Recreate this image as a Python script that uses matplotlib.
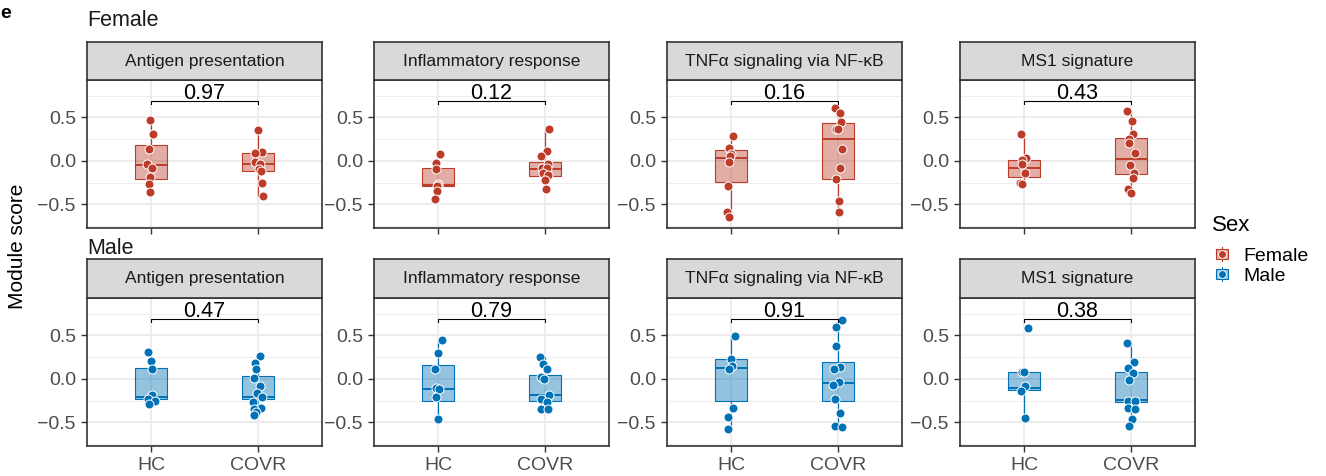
import matplotlib
matplotlib.use("Agg")
import matplotlib.pyplot as plt
from matplotlib.lines import Line2D
from matplotlib.patches import Rectangle
from matplotlib.legend_handler import HandlerBase
from matplotlib.colors import to_rgba

plt.rcParams['font.family'] = ['Liberation Sans', 'DejaVu Sans']

# ---------------- data ----------------
modules = ["Antigen presentation", "Inflammatory response",
           "TNFα signaling via NF-κB", "MS1 signature"]
groups = ["HC", "COVR"]
sexes = ["Female", "Male"]
p_female = ["0.97", "0.12", "0.16", "0.43"]
p_male = ["0.47", "0.79", "0.91", "0.38"]
yticks = [-0.5, 0.0, 0.5]
ytick_labels = ["\u22120.5", "0.0", "0.5"]

# Female module scores
f_hc_antigen = [0.47, 0.31, 0.14, -0.03, -0.08, -0.18, -0.26, -0.36]
f_covr_antigen = [0.36, 0.10, 0.095, -0.015, -0.04, -0.095, -0.11, -0.25, -0.40]
f_hc_inflam = [0.08, -0.027, -0.09, -0.26, -0.28, -0.29, -0.345, -0.437]
f_covr_inflam = [0.364, 0.115, 0.057, -0.038, -0.08, -0.085, -0.14, -0.16, -0.22, -0.32]
f_hc_tnf = [0.287, 0.153, 0.077, 0.06, -0.008, -0.284, -0.59, -0.647]
f_covr_tnf = [0.605, 0.555, 0.445, 0.372, 0.372, 0.142, -0.077, -0.21, -0.456, -0.586]
f_hc_ms1 = [0.307, 0.031, 0.011, -0.038, -0.141, -0.249, -0.268]
f_covr_ms1 = [0.575, 0.46, 0.307, 0.249, 0.21, 0.088, -0.046, -0.141, -0.191, -0.322, -0.372]

# Male module scores
m_hc_antigen = [0.311, 0.208, 0.111, -0.185, -0.231, -0.25, -0.292]
m_covr_antigen = [0.269, 0.188, 0.111, 0.015, -0.077, -0.165, -0.208, -0.269, -0.338, -0.346, -0.377, -0.415]
m_hc_inflam = [0.45, 0.303, 0.115, -0.107, -0.119, -0.211, -0.461]
m_covr_inflam = [0.25, 0.173, 0.119, 0.019, -0.004, -0.185, -0.231, -0.262, -0.346, -0.35]
m_hc_tnf = [0.492, 0.227, 0.15, 0.112, -0.331, -0.434, -0.573]
m_covr_tnf = [0.68, 0.592, 0.381, 0.142, 0.115, -0.038, -0.065, -0.231, -0.392, -0.538, -0.55]
m_hc_ms1 = [0.588, 0.084, 0.08, -0.081, -0.135, -0.446]
m_covr_ms1 = [0.415, 0.192, 0.123, 0.073, -0.015, -0.25, -0.25, -0.334, -0.35, -0.461, -0.546]

# horizontal jitter of each point (category units)
f_hc_antigen_jit = [-0.01, 0.02, -0.02, -0.04, 0.01, -0.01, -0.02, -0.01]
f_covr_antigen_jit = [0.0, 0.04, -0.03, -0.03, 0.02, 0.01, 0.03, 0.04, 0.05]
f_hc_inflam_jit = [0.02, -0.02, -0.02, 0.0, 0.0, -0.01, -0.01, -0.03]
f_covr_inflam_jit = [0.04, 0.02, -0.04, 0.03, -0.03, 0.02, -0.02, 0.03, 0.0, 0.01]
f_hc_tnf_jit = [0.02, -0.02, 0.0, -0.01, -0.02, -0.03, -0.04, -0.02]
f_covr_tnf_jit = [-0.03, 0.02, 0.03, -0.02, 0.0, 0.04, 0.02, -0.02, 0.01, 0.01]
f_hc_ms1_jit = [-0.03, 0.02, -0.02, -0.02, 0.01, -0.04, -0.02]
f_covr_ms1_jit = [-0.04, 0.01, 0.02, -0.02, -0.02, 0.04, -0.01, 0.03, 0.02, -0.03, 0.0]
m_hc_antigen_jit = [-0.03, 0.0, 0.01, 0.01, -0.03, 0.04, -0.02]
m_covr_antigen_jit = [0.02, -0.03, -0.02, -0.04, 0.02, -0.01, 0.04, -0.05, 0.03, -0.04, -0.02, -0.04]
m_hc_inflam_jit = [0.04, 0.0, -0.03, -0.02, 0.01, -0.02, 0.0]
m_covr_inflam_jit = [-0.05, -0.02, 0.02, -0.04, -0.01, 0.04, -0.04, 0.02, -0.04, 0.03]
m_hc_tnf_jit = [0.04, 0.0, 0.01, -0.02, 0.02, -0.03, -0.03]
m_covr_tnf_jit = [0.04, -0.02, -0.02, 0.02, -0.04, 0.01, -0.05, -0.03, 0.02, -0.03, 0.04]
m_hc_ms1_jit = [0.04, -0.02, 0.0, 0.01, -0.03, 0.01]
m_covr_ms1_jit = [-0.04, 0.03, -0.03, 0.02, -0.02, -0.03, 0.04, -0.03, 0.04, 0.01, -0.02]

# box statistics per module, [HC, COVR]
f_whislo = [[-0.36, -0.40], [-0.437, -0.32], [-0.647, -0.586], [-0.268, -0.372]]
f_q1 = [[-0.21, -0.115], [-0.29, -0.169], [-0.245, -0.21], [-0.187, -0.149]]
f_med = [[-0.05, -0.03], [-0.28, -0.096], [0.038, 0.253], [-0.084, 0.023]]
f_q3 = [[0.18, 0.09], [-0.077, -0.015], [0.123, 0.433], [0.008, 0.261]]
f_whishi = [[0.47, 0.36], [0.08, 0.364], [0.287, 0.605], [0.307, 0.575]]

m_whislo = [[-0.292, -0.415], [-0.461, -0.35], [-0.573, -0.55], [-0.446, -0.546]]
m_q1 = [[-0.234, -0.231], [-0.25, -0.25], [-0.254, -0.254], [-0.13, -0.26]]
m_med = [[-0.204, -0.211], [-0.112, -0.188], [0.123, -0.05], [-0.1, -0.245]]
m_q3 = [[0.131, 0.035], [0.161, 0.042], [0.227, 0.196], [0.077, 0.084]]
m_whishi = [[0.311, 0.269], [0.45, 0.25], [0.492, 0.68], [0.077, 0.415]]

female_points = [(f_hc_antigen, f_covr_antigen), (f_hc_inflam, f_covr_inflam),
                 (f_hc_tnf, f_covr_tnf), (f_hc_ms1, f_covr_ms1)]
female_jit = [(f_hc_antigen_jit, f_covr_antigen_jit), (f_hc_inflam_jit, f_covr_inflam_jit),
              (f_hc_tnf_jit, f_covr_tnf_jit), (f_hc_ms1_jit, f_covr_ms1_jit)]
male_points = [(m_hc_antigen, m_covr_antigen), (m_hc_inflam, m_covr_inflam),
               (m_hc_tnf, m_covr_tnf), (m_hc_ms1, m_covr_ms1)]
male_jit = [(m_hc_antigen_jit, m_covr_antigen_jit), (m_hc_inflam_jit, m_covr_inflam_jit),
            (m_hc_tnf_jit, m_covr_tnf_jit), (m_hc_ms1_jit, m_covr_ms1_jit)]

# ---------------- style ----------------
colors = {"Female": "#BC3C29", "Male": "#0072B5"}
FILL_ALPHA = 0.42
BORDER = "#333333"
GRID = "#EBEBEB"
TICKTXT = "#4D4D4D"
STRIP = "#D9D9D9"

W, H = 1326, 476
fig = plt.figure(figsize=(W / 100, H / 100), dpi=100)

col_left = [87, 374, 667, 960]
panel_w = 235
row_axes = [(80, 228), (298, 446)]      # top, bottom pixel (from top)
row_strip = [(42, 80), (259, 298)]


def fx(px):
    return px / W


def fy(py):
    return 1 - py / H


rows = [
    ("Female", female_points, female_jit, (f_whislo, f_q1, f_med, f_q3, f_whishi), p_female),
    ("Male", male_points, male_jit, (m_whislo, m_q1, m_med, m_q3, m_whishi), p_male),
]

for r, (sex, pts, jits, bstats, pvals) in enumerate(rows):
    col = colors[sex]
    fill = to_rgba(col, FILL_ALPHA)
    a_top, a_bot = row_axes[r]
    s_top, s_bot = row_strip[r]
    for c in range(4):
        ax = fig.add_axes([fx(col_left[c]), fy(a_bot), fx(panel_w), (a_bot - a_top) / H])
        ax.set_xlim(0.4, 2.6)
        ax.set_ylim(-0.77, 0.93)
        ax.set_facecolor("white")
        # grid
        for yv in [-0.75, -0.25, 0.25, 0.75]:
            ax.axhline(yv, color=GRID, lw=0.6, zorder=0)
        for yv in yticks:
            ax.axhline(yv, color=GRID, lw=1.3, zorder=0)
        for xv in [1, 2]:
            ax.axvline(xv, color=GRID, lw=1.3, zorder=0)

        stats = []
        for g in range(2):
            stats.append(dict(whislo=bstats[0][c][g], q1=bstats[1][c][g], med=bstats[2][c][g],
                              q3=bstats[3][c][g], whishi=bstats[4][c][g], fliers=[]))
        ax.bxp(stats, positions=[1, 2], widths=0.3, patch_artist=True, showfliers=False,
               showcaps=False,
               boxprops=dict(facecolor=fill, edgecolor=col, linewidth=0.8),
               medianprops=dict(color=col, linewidth=1.4, solid_capstyle='butt'),
               whiskerprops=dict(color=col, linewidth=0.9),
               manage_ticks=False, zorder=2)
        for g in range(2):
            xs = [g + 1 + j for j in jits[c][g]]
            ax.scatter(xs, pts[c][g], s=42, facecolor=col, edgecolor="white",
                       linewidths=0.7, zorder=3)

        # p-value bracket
        ax.plot([1, 1, 2, 2], [0.655, 0.69, 0.69, 0.655], color="black", lw=0.8, zorder=4,
                solid_joinstyle='miter')
        ax.text(1.5, 0.712, pvals[c], ha="center", va="baseline", fontsize=15.5,
                color="black", zorder=5)

        ax.set_yticks(yticks)
        ax.set_yticklabels(ytick_labels)
        ax.set_xticks([1, 2])
        if r == 1:
            ax.set_xticklabels(groups)
        else:
            ax.set_xticklabels([])
        ax.tick_params(axis="both", length=4.5, width=1.0, color=BORDER,
                       labelsize=14, labelcolor=TICKTXT, pad=3.5)
        for sp in ax.spines.values():
            sp.set_color(BORDER)
            sp.set_linewidth(1.2)

        # strip
        sax = fig.add_axes([fx(col_left[c]), fy(s_bot), fx(panel_w), (s_bot - s_top) / H])
        sax.set_facecolor(STRIP)
        sax.set_xticks([])
        sax.set_yticks([])
        for sp in sax.spines.values():
            sp.set_color(BORDER)
            sp.set_linewidth(1.2)
        sax.text(0.5, 0.5, modules[c], transform=sax.transAxes, ha="center", va="center",
                 fontsize=12.5, color="#1A1A1A")

# row titles
fig.text(fx(87), fy(26), "Female", fontsize=15.5, ha="left", va="baseline", color="#1A1A1A")
fig.text(fx(87), fy(254), "Male", fontsize=15.5, ha="left", va="baseline", color="#1A1A1A")
# panel letter
fig.text(fx(0), fy(18), "e", fontsize=14, fontweight="bold", ha="left", va="baseline")
# y label
fig.text(fx(18), fy(246), "Module score", rotation=90, fontsize=15, ha="center", va="center")
# legend title
fig.text(fx(1212), fy(231), "Sex", fontsize=16, ha="left", va="baseline", color="black")


# legend
class BoxKey(HandlerBase):
    def create_artists(self, legend, orig_handle, xdescent, ydescent, width, height,
                       fontsize, trans):
        col = orig_handle.get_color()
        cx = width / 2 - xdescent
        cy = height / 2 - ydescent
        bw, bh = 8.5, 7.0
        line = Line2D([cx, cx], [cy - 5.2, cy + 5.2], color=col, lw=0.8, transform=trans)
        rect = Rectangle((cx - bw / 2, cy - bh / 2), bw, bh, facecolor=to_rgba(col, FILL_ALPHA),
                         edgecolor=col, lw=0.8, transform=trans)
        dot = Line2D([cx], [cy], marker="o", markersize=5.6, markerfacecolor=col,
                     markeredgecolor="white", markeredgewidth=0.6, linestyle="none",
                     transform=trans)
        return [line, rect, dot]


handles = [Line2D([], [], color=colors["Female"]), Line2D([], [], color=colors["Male"])]
leg = fig.legend(handles, sexes, loc="upper left",
                 bbox_to_anchor=(fx(1212), fy(248)), frameon=False, fontsize=14,
                 handler_map={Line2D: BoxKey()}, handlelength=1.0, handleheight=0.6,
                 handletextpad=0.6, labelspacing=0.15, borderaxespad=0, borderpad=0)

fig.savefig("out.png", dpi=100)
